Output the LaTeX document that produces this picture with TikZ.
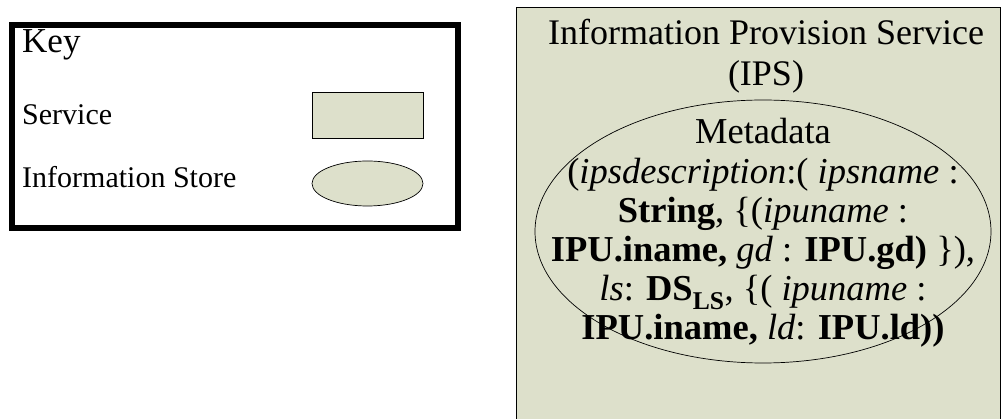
\documentclass[tikz,border=0pt]{standalone}
\usepackage{fontspec}
\setmainfont{Liberation Serif}
\usetikzlibrary{shapes, positioning}
\definecolor{sage}{RGB}{221,224,203}

\tikzset{
  svcbox/.style={draw, fill=sage, line width=0.7pt, inner sep=0pt},
  storebox/.style={ellipse, draw, fill=sage, line width=0.7pt, inner sep=0pt},
  keytxt/.style={anchor=base west, inner sep=0pt, font=\fontsize{30}{34}\selectfont},
}

\begin{document}
\begin{tikzpicture}[x=1pt,y=-1pt]
  \useasboundingbox (0,0) rectangle (1004,419);
  \clip (0,0) rectangle (1004,419);

  % key
  \node[draw, line width=6pt, minimum width=446.5pt, minimum height=203pt, inner sep=0pt] (keyframe) at (234.75,126.5) {};
  \node[keytxt, font=\fontsize{35}{40}\selectfont] (keytitle) at (22,53) {Key};
  \node[keytxt] (svclabel) at (22,125) {Service};
  \node[keytxt] (storelabel) at (22,188) {Information Store};
  \node[svcbox, minimum width=111pt, minimum height=46pt] (svckey) at (367.5,115) {};
  \node[storebox, minimum width=111pt, minimum height=45pt] (storekey) at (367.5,183.5) {};

  % service
  \node[svcbox, anchor=north west, minimum width=484pt, minimum height=440pt] (ips) at (516,7) {};
  \node[anchor=base, align=center, inner sep=0pt, font=\fontsize{36}{41}\selectfont] (ipstitle) at (766,86)
    {Information Provision Service\\(IPS)};

  \node[storebox, minimum width=456pt, minimum height=263pt] (metastore) at (763,231.5) {};
  \node[anchor=base, align=center, inner sep=0pt, font=\fontsize{36.5}{39.2}\selectfont] (metatext) at (763,340)
    {Metadata\\
     (\textit{ipsdescription}:( \textit{ipsname} :\\
     \textbf{String}, \{(\textit{ipuname} :\\
     \textbf{IPU.iname,} \textit{gd} : \textbf{IPU.gd)} \}),\\
     \textit{ls}: \textbf{DS\textsubscript{LS}}, \{( \textit{ipuname} :\\
     \textbf{IPU.iname,} \textit{ld}: \textbf{IPU.ld))}};
\end{tikzpicture}
\end{document}
